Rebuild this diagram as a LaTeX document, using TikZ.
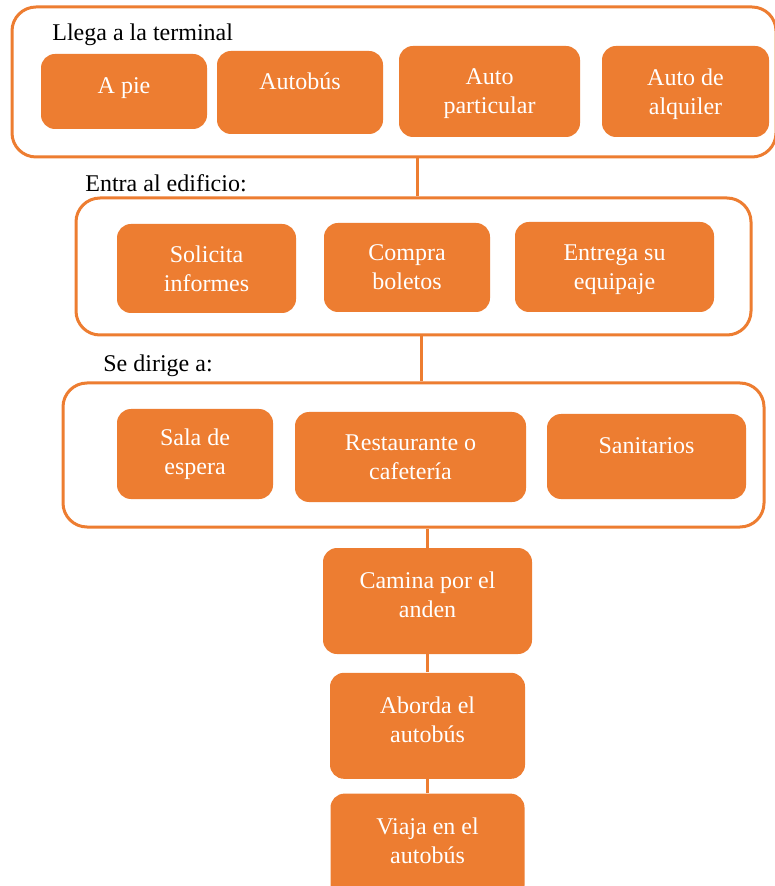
\documentclass[tikz,border=0pt]{standalone}
\usepackage{fontspec}
\setmainfont{Liberation Serif}
\usetikzlibrary{positioning}
\definecolor{naranja}{HTML}{ED7D31}
\tikzset{
  grupo/.style={draw=naranja, line width=1.5pt, rounded corners=12pt, fill=white, inner sep=0pt},
  caja/.style={fill=naranja, text=white, rounded corners=7pt, align=center, inner sep=0pt, font=\fontsize{12}{14.5}\selectfont},
  alto/.style={text depth=11pt},
  plano/.style={text depth=0pt},
  arriba/.style={text depth=6pt},
  titulo/.style={anchor=west, inner sep=0pt, font=\fontsize{12}{14.5}\selectfont},
  enlace/.style={draw=naranja, line width=1.2pt}
}

\begin{document}
\begin{tikzpicture}[x=0.5pt, y=-0.5pt]
    \useasboundingbox (0,0) rectangle (774,886);

    % grupos
    \node[grupo, minimum width=382pt, minimum height=75pt] (terminal) at (394,82) {};
    \node[grupo, minimum width=337.5pt, minimum height=68.5pt] (edificio) at (413.5,266.5) {};
    \node[grupo, minimum width=350.5pt, minimum height=72pt] (lugares) at (413.5,455) {};

    \node[titulo] (llega) at (52,35) {Llega a la terminal};
    \node[titulo] (entra) at (85,183) {Entra al edificio:};
    \node[titulo] (dirige) at (103,366) {Se dirige a:};

    % llega a la terminal
    \node[caja, text depth=6pt, minimum width=83pt, minimum height=37.5pt] (pie) at (124,91.5) {A pie};
    \node[caja, alto, minimum width=83pt, minimum height=41.5pt] (autobus) at (300,92.5) {Autobús};
    \node[caja, plano, minimum width=90.5pt, minimum height=45.5pt] (particular) at (489.5,91.5) {Auto\\particular};
    \node[caja, plano, minimum width=83.5pt, minimum height=45.5pt] (alquiler) at (685.5,91.5) {Auto de\\alquiler};

    % entra al edificio
    \node[caja, minimum width=89.5pt, minimum height=44.5pt] (solicita) at (206.5,268.5) {Solicita\\informes};
    \node[caja, minimum width=83pt, minimum height=44.5pt] (compra) at (407,267.5) {Compra\\boletos};
    \node[caja, plano, minimum width=99.5pt, minimum height=45pt] (entrega) at (614.5,267) {Entrega su\\equipaje};

    % se dirige a
    \node[caja, minimum width=78pt, minimum height=45pt] (sala) at (195,454) {Sala de\\espera};
    \node[caja, minimum width=115.5pt, minimum height=45pt] (restaurante) at (410.5,457) {Restaurante o\\cafetería};
    \node[caja, alto, minimum width=99.5pt, minimum height=42.5pt] (sanitarios) at (646.5,456.5) {Sanitarios};

    % anden y autobus
    \node[caja, arriba, minimum width=104.5pt, minimum height=53pt] (camina) at (427.5,601) {Camina por el\\anden};
    \node[caja, arriba, minimum width=97.5pt, minimum height=53pt, below=9pt of camina] (aborda) {Aborda el\\autobús};
    \node[caja, arriba, minimum width=97pt, minimum height=53pt, below=7pt of aborda] (viaja) {Viaja en el\\autobús};

    \draw[enlace] ([xshift=2pt]terminal.south -| edificio.north) -- ([xshift=2pt]edificio.north);
    \draw[enlace] ([xshift=4pt]edificio.south) -- ([xshift=4pt]edificio.south |- lugares.north);
    \draw[enlace] (lugares.south -| camina.north) -- (camina.north);
    \draw[enlace] (camina) -- (aborda);
    \draw[enlace] (aborda) -- (viaja);
\end{tikzpicture}
\end{document}
